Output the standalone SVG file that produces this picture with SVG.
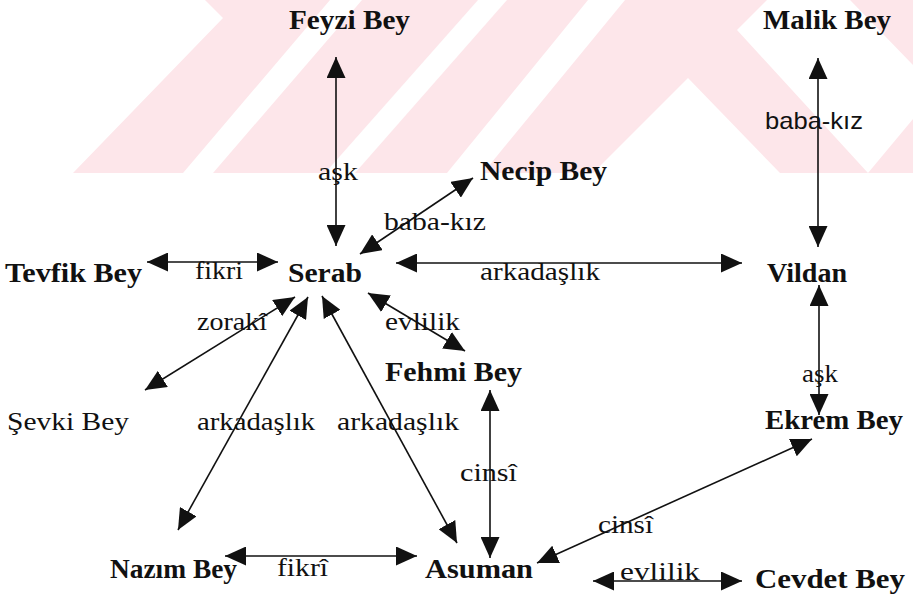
<svg xmlns="http://www.w3.org/2000/svg" width="913" height="594" viewBox="0 0 913 594">
  <style>
    .node { font-family: "Liberation Serif", "Times New Roman", serif; font-weight: bold; font-size: 27px; fill: #111; }
    .lbl { font-family: "Liberation Serif", "Times New Roman", serif; font-size: 26px; fill: #111; }
    .sans { font-family: "Liberation Sans", Arial, sans-serif; font-size: 24px; fill: #111; }
    .edge { stroke: #111; stroke-width: 1.6; fill: none; marker-start: url(#head); marker-end: url(#head); }
    .wm { fill: #fde6ea; }
    .wm-gap { fill: #ffffff; }
  </style>
  <defs>
    <marker id="head" viewBox="0 0 21 19" refX="21" refY="9.5" markerWidth="21" markerHeight="19" markerUnits="userSpaceOnUse" orient="auto-start-reverse">
      <path d="M0,0 L21,9.5 L0,19 z" fill="#111"/>
    </marker>
  </defs>

  <rect width="913" height="594" fill="#ffffff"/>

  <!-- faint striped emblem behind the top rows -->
  <g id="emblem">
    <polygon class="wm" points="73,173 223,18 205,0 913,0 913,173"/>
    <polygon class="wm-gap" points="183,173 213,173 362,0 330,0"/>
    <polygon class="wm-gap" points="325,173 355,173 507,0 478,0"/>
    <polygon class="wm-gap" points="447,173 483,173 625,0 588,0"/>
    <polygon class="wm-gap" points="593,173 688,78 780,173"/>
    <polygon class="wm-gap" points="737,30 767,0 850,0 913,65 913,119 868,173"/>
  </g>

  <!-- connectors -->
  <g id="connectors">
    <line class="edge" x1="336" y1="246" x2="336" y2="57"/>
    <line class="edge" x1="818" y1="247" x2="818" y2="58"/>
    <line class="edge" x1="360" y1="254" x2="473" y2="178"/>
    <line class="edge" x1="147" y1="262" x2="278" y2="262"/>
    <line class="edge" x1="396" y1="263" x2="742" y2="263"/>
    <line class="edge" x1="368" y1="293" x2="465" y2="351"/>
    <line class="edge" x1="295" y1="297" x2="145" y2="390"/>
    <line class="edge" x1="308" y1="297" x2="178" y2="530"/>
    <line class="edge" x1="322" y1="296" x2="457" y2="543"/>
    <line class="edge" x1="490" y1="390" x2="490" y2="558"/>
    <line class="edge" x1="819" y1="285" x2="819" y2="415"/>
    <line class="edge" x1="537" y1="563" x2="812" y2="439"/>
    <line class="edge" x1="225" y1="556" x2="417" y2="556"/>
    <line class="edge" x1="593" y1="581" x2="742" y2="581"/>
  </g>

  <!-- edge labels -->
  <g id="labels">
    <text class="lbl" x="318" y="180" textLength="40" lengthAdjust="spacingAndGlyphs">aşk</text>
    <text class="lbl" x="384" y="230" textLength="102" lengthAdjust="spacingAndGlyphs">baba-kız</text>
    <text class="sans" x="765" y="129" textLength="98" lengthAdjust="spacingAndGlyphs">baba-kız</text>
    <text class="lbl" x="195" y="279" textLength="48" lengthAdjust="spacingAndGlyphs">fikri</text>
    <text class="lbl" x="480" y="280" textLength="120" lengthAdjust="spacingAndGlyphs">arkadaşlık</text>
    <text class="lbl" x="197" y="330" textLength="70" lengthAdjust="spacingAndGlyphs">zorakî</text>
    <text class="lbl" x="385" y="330" textLength="75" lengthAdjust="spacingAndGlyphs">evlilik</text>
    <text class="lbl" x="197" y="430" textLength="118" lengthAdjust="spacingAndGlyphs">arkadaşlık</text>
    <text class="lbl" x="337" y="430" textLength="122" lengthAdjust="spacingAndGlyphs">arkadaşlık</text>
    <text class="lbl" x="802" y="382" textLength="36" lengthAdjust="spacingAndGlyphs">aşk</text>
    <text class="lbl" x="460" y="481" textLength="57" lengthAdjust="spacingAndGlyphs">cinsî</text>
    <text class="lbl" x="598" y="533" textLength="55" lengthAdjust="spacingAndGlyphs">cinsî</text>
    <text class="lbl" x="277" y="576" textLength="51" lengthAdjust="spacingAndGlyphs">fikrî</text>
    <text class="lbl" x="620" y="580" font-size="24" textLength="80" lengthAdjust="spacingAndGlyphs">evlilik</text>
  </g>

  <!-- people -->
  <g id="feyzi"><text class="node" x="289" y="29" textLength="121" lengthAdjust="spacingAndGlyphs">Feyzi Bey</text></g>
  <g id="malik"><text class="node" x="763" y="29" textLength="128" lengthAdjust="spacingAndGlyphs">Malik Bey</text></g>
  <g id="necip"><text class="node" x="480" y="180" textLength="127" lengthAdjust="spacingAndGlyphs">Necip Bey</text></g>
  <g id="tevfik"><text class="node" x="5" y="282" textLength="137" lengthAdjust="spacingAndGlyphs">Tevfik Bey</text></g>
  <g id="serab"><text class="node" x="288" y="282" textLength="74" lengthAdjust="spacingAndGlyphs">Serab</text></g>
  <g id="vildan"><text class="node" x="767" y="282" textLength="80" lengthAdjust="spacingAndGlyphs">Vildan</text></g>
  <g id="fehmi"><text class="node" x="385" y="381" textLength="137" lengthAdjust="spacingAndGlyphs">Fehmi Bey</text></g>
  <g id="sevki"><text class="lbl" x="7" y="430" fill="#333" textLength="122" lengthAdjust="spacingAndGlyphs">Şevki Bey</text></g>
  <g id="ekrem"><text class="node" x="765" y="429" fill="#2a2a2a" textLength="138" lengthAdjust="spacingAndGlyphs">Ekrem Bey</text></g>
  <g id="nazim"><text class="node" x="110" y="578" textLength="127" lengthAdjust="spacingAndGlyphs">Nazım Bey</text></g>
  <g id="asuman"><text class="node" x="425" y="578" textLength="108" lengthAdjust="spacingAndGlyphs">Asuman</text></g>
  <g id="cevdet"><text class="node" x="755" y="588" textLength="150" lengthAdjust="spacingAndGlyphs">Cevdet Bey</text></g>
</svg>
